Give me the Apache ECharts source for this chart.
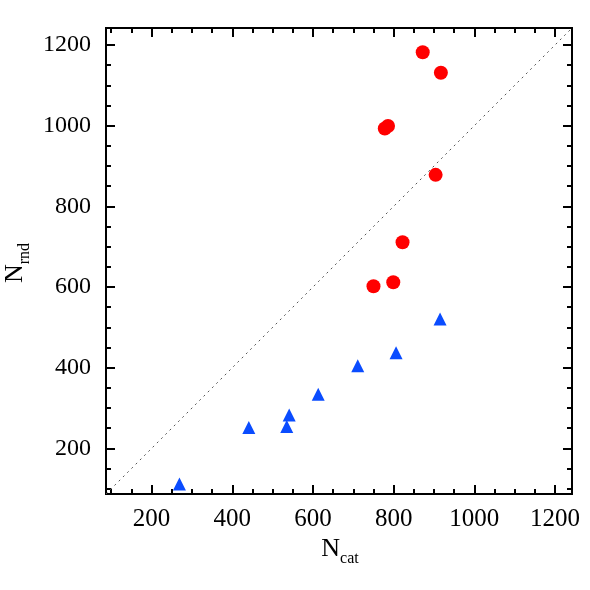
<!DOCTYPE html>
<html>
<head>
<meta charset="utf-8">
<script src="https://cdn.jsdelivr.net/npm/echarts@6/dist/echarts.min.js"></script>
<style>
  html, body { margin: 0; padding: 0; background: #fff; }
  #chart { width: 590px; height: 590px; }
</style>
</head>
<body>
<div id="chart"></div>
<script>
// axis range (same on both axes, the dotted line is y = x)
const axisMin = 87;
const axisMax = 1242;
const majorTicks = [200, 400, 600, 800, 1000, 1200];
const minorTicks = [100, 150, 250, 300, 350, 450, 500, 550, 650, 700, 750, 850, 900, 950, 1050, 1100, 1150];

// red circles
const redX = [872, 917, 778, 786, 904, 822, 750, 799];
const redY = [1182, 1131, 993, 999, 878, 711, 602, 612];

// blue triangles
const blueX = [269, 441, 535, 541, 613, 711, 806, 915];
const blueY = [112, 252, 254, 283, 334, 405, 437, 521];

const serif = '"Liberation Serif", "DejaVu Serif", serif';

const chart = echarts.init(document.getElementById('chart'));

// one axis per tick set: major / minor, bottom/top or left/right
function makeAxis(position, ticks, len, label, fontSize) {
  return {
    type: 'value',
    position: position,
    min: axisMin,
    max: axisMax,
    splitLine: { show: false },
    axisLine: { show: true, onZero: false, lineStyle: { color: '#000', width: 2 } },
    axisTick: {
      show: true,
      inside: true,
      length: len,
      customValues: ticks,
      lineStyle: { color: '#000', width: 2 }
    },
    axisLabel: label ? {
      show: true,
      customValues: ticks,
      formatter: (v) => String(v),
      color: '#000',
      fontSize: fontSize,
      fontFamily: serif,
      margin: position === 'bottom' ? 13 : 15
    } : { show: false }
  };
}

const option = {
  animation: false,
  backgroundColor: '#fff',
  grid: { left: 106, right: 18, top: 28, bottom: 96 },
  xAxis: [
    makeAxis('bottom', majorTicks, 9, true, 25),
    makeAxis('bottom', minorTicks, 5, false),
    makeAxis('top', majorTicks, 9, false),
    makeAxis('top', minorTicks, 5, false)
  ],
  yAxis: [
    makeAxis('left', majorTicks, 9, true, 24),
    makeAxis('left', minorTicks, 5, false),
    makeAxis('right', majorTicks, 9, false),
    makeAxis('right', minorTicks, 5, false)
  ],
  series: [
    {
      type: 'line',
      data: [[axisMin, axisMin], [axisMax, axisMax]],
      symbol: 'none',
      silent: true,
      lineStyle: { color: '#555', width: 1, type: [2, 4] }
    },
    {
      type: 'scatter',
      symbol: 'circle',
      symbolSize: 14,
      itemStyle: { color: '#ff0000', opacity: 1 },
      data: redX.map((x, i) => [x, redY[i]])
    },
    {
      type: 'scatter',
      symbol: 'triangle',
      symbolSize: 13,
      itemStyle: { color: '#0a4cff', opacity: 1 },
      data: blueX.map((x, i) => [x, blueY[i]])
    }
  ],
  graphic: [
    {
      type: 'text',
      x: 340,
      y: 536,
      style: {
        text: '{n|N}{s|cat}',
        align: 'center',
        verticalAlign: 'top',
        rich: {
          n: { fontSize: 26, fontFamily: serif, color: '#000', verticalAlign: 'top' },
          s: { fontSize: 16, fontFamily: serif, color: '#000', verticalAlign: 'top', padding: [15, 0, 0, 0] }
        }
      }
    },
    {
      type: 'text',
      x: 2,
      y: 263,
      rotation: Math.PI / 2,
      style: {
        text: '{n|N}{s|rnd}',
        align: 'center',
        verticalAlign: 'top',
        rich: {
          n: { fontSize: 26, fontFamily: serif, color: '#000', verticalAlign: 'top' },
          s: { fontSize: 16, fontFamily: serif, color: '#000', verticalAlign: 'top', padding: [15, 0, 0, 0] }
        }
      }
    }
  ]
};

chart.setOption(option);
</script>
</body>
</html>
